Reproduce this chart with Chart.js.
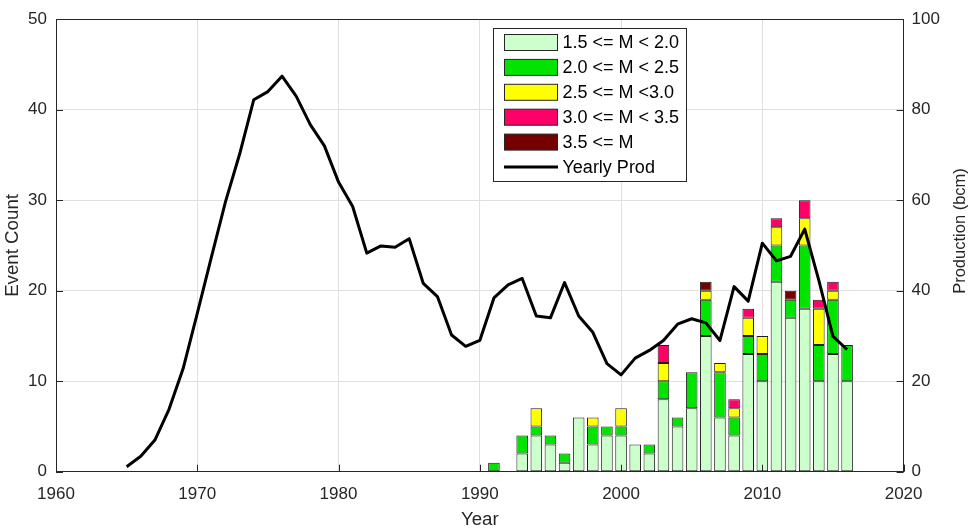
<!DOCTYPE html>
<html>
<head>
<meta charset="utf-8">
<script src="https://cdn.jsdelivr.net/npm/chart.js@4.4.0/dist/chart.umd.min.js"></script>
<style>
  html, body { margin: 0; padding: 0; background: #fff; }
  #wrap { width: 970px; height: 529px; }
</style>
</head>
<body>
<div id="wrap"><canvas id="eventsCanvas" width="970" height="529"></canvas></div>
<script>
// yearly event counts per magnitude class
const barYears = [1991, 1992, 1993, 1994, 1995, 1996, 1997, 1998, 1999, 2000, 2001, 2002, 2003,
                  2004, 2005, 2006, 2007, 2008, 2009, 2010, 2011, 2012, 2013, 2014, 2015, 2016];
const countM15 = [0, 0, 2, 4, 3, 1, 6, 3, 4, 4, 3, 2, 8, 5, 7, 15, 6, 4, 13, 10, 21, 17, 18, 10, 13, 10];
const countM20 = [1, 0, 2, 1, 1, 1, 0, 2, 1, 1, 0, 1, 2, 1, 4, 4, 5, 2, 2, 3, 4, 2, 7, 4, 6, 4];
const countM25 = [0, 0, 0, 2, 0, 0, 0, 1, 0, 2, 0, 0, 2, 0, 0, 1, 1, 1, 2, 2, 2, 0, 3, 4, 1, 0];
const countM30 = [0, 0, 0, 0, 0, 0, 0, 0, 0, 0, 0, 0, 2, 0, 0, 0, 0, 1, 1, 0, 1, 0, 2, 1, 1, 0];
const countM35 = [0, 0, 0, 0, 0, 0, 0, 0, 0, 0, 0, 0, 0, 0, 0, 1, 0, 0, 0, 0, 0, 1, 0, 0, 0, 0];

// yearly gas production (bcm)
const prodYears = [1965, 1966, 1967, 1968, 1969, 1970, 1971, 1972, 1973, 1974, 1975, 1976, 1977,
                   1978, 1979, 1980, 1981, 1982, 1983, 1984, 1985, 1986, 1987, 1988, 1989, 1990,
                   1991, 1992, 1993, 1994, 1995, 1996, 1997, 1998, 1999, 2000, 2001, 2002, 2003,
                   2004, 2005, 2006, 2007, 2008, 2009, 2010, 2011, 2012, 2013, 2014, 2015, 2016];
const production = [1.1, 3.4, 7.0, 13.8, 22.8, 35.0, 47.4, 59.7, 70.2, 82.2, 84.0, 87.4, 83.0,
                    76.7, 72.0, 64.0, 58.6, 48.3, 49.9, 49.6, 51.5, 41.6, 38.7, 30.2, 27.7, 29.0,
                    38.4, 41.3, 42.7, 34.4, 34.0, 41.8, 34.4, 30.8, 23.9, 21.4, 25.1, 26.8, 29.0,
                    32.6, 33.8, 32.9, 29.0, 40.9, 37.7, 50.5, 46.6, 47.6, 53.6, 42.3, 29.9, 27.0];

const classLabels = ['1.5 <= M < 2.0', '2.0 <= M < 2.5', '2.5 <= M <3.0', '3.0 <= M < 3.5', '3.5 <= M'];
const classColors = ['#ccffcc', '#00e400', '#ffff00', '#ff0066', '#760000'];
const classCounts = [countM15, countM20, countM25, countM30, countM35];

const axisColor = '#262626';
const gridColor = '#dfdfdf';
const fontFamily = "'Liberation Sans', Arial, sans-serif";

Chart.defaults.font.family = fontFamily;

function barData(counts) {
    // skip empty years so no zero-height boxes get drawn
    let points = [];
    for (let i = 0; i < barYears.length; i++) {
        if (counts[i] > 0) points.push({ x: barYears[i], y: counts[i] });
    }
    return points;
}

let datasets = [];
for (let k = 0; k < classLabels.length; k++) {
    datasets.push({
        type: 'bar',
        label: classLabels[k],
        data: barData(classCounts[k]),
        backgroundColor: classColors[k],
        borderColor: '#1e1e1e',
        borderWidth: 1,
        borderSkipped: false,
        barPercentage: 0.82,
        categoryPercentage: 1,
        yAxisID: 'y',
        order: 1
    });
}
datasets.push({
    type: 'line',
    label: 'Yearly Prod',
    data: prodYears.map((yr, i) => ({ x: yr, y: production[i] })),
    borderColor: '#000000',
    borderWidth: 3,
    borderJoinStyle: 'round',
    pointRadius: 0,
    tension: 0,
    yAxisID: 'y1',
    order: 0
});

// frame on top edge plus inward tick marks
const frameTicks = {
    id: 'frameTicks',
    afterDatasetsDraw(chart) {
        const ctx = chart.ctx;
        const area = chart.chartArea;
        const len = 7;
        ctx.save();
        ctx.strokeStyle = axisColor;
        ctx.lineWidth = 1;
        ctx.beginPath();
        const top = Math.round(area.top) + 0.5;
        ctx.moveTo(area.left, top);
        ctx.lineTo(area.right, top);
        chart.scales.x.ticks.forEach(t => {
            const px = Math.round(chart.scales.x.getPixelForValue(t.value)) + 0.5;
            ctx.moveTo(px, area.bottom);
            ctx.lineTo(px, area.bottom - len);
        });
        chart.scales.y.ticks.forEach(t => {
            const py = Math.round(chart.scales.y.getPixelForValue(t.value)) + 0.5;
            ctx.moveTo(area.left, py);
            ctx.lineTo(area.left + len, py);
        });
        chart.scales.y1.ticks.forEach(t => {
            const py = Math.round(chart.scales.y1.getPixelForValue(t.value)) + 0.5;
            ctx.moveTo(area.right, py);
            ctx.lineTo(area.right - len, py);
        });
        ctx.stroke();
        ctx.restore();
    }
};

// boxed legend inside the plot, plus the right axis label reading bottom-to-top
const boxLegend = {
    id: 'boxLegend',
    afterDraw(chart) {
        const ctx = chart.ctx;
        const x0 = 493.5, y0 = 28.5, w = 193, h = 153;
        const rowStep = 24.9;
        ctx.save();
        ctx.fillStyle = '#ffffff';
        ctx.fillRect(x0, y0, w, h);
        ctx.strokeStyle = axisColor;
        ctx.lineWidth = 1;
        ctx.strokeRect(x0, y0, w, h);
        ctx.font = '18px ' + fontFamily;
        ctx.textBaseline = 'middle';
        ctx.textAlign = 'left';
        chart.data.datasets.forEach((ds, i) => {
            const cy = 42.5 + i * rowStep;
            if (ds.type === 'bar') {
                ctx.fillStyle = ds.backgroundColor;
                ctx.fillRect(504.5, cy - 8, 53, 16);
                ctx.strokeStyle = axisColor;
                ctx.strokeRect(504.5, cy - 8, 53, 16);
            } else {
                ctx.strokeStyle = ds.borderColor;
                ctx.lineWidth = 3;
                ctx.beginPath();
                ctx.moveTo(504, cy);
                ctx.lineTo(558, cy);
                ctx.stroke();
                ctx.lineWidth = 1;
            }
            ctx.fillStyle = '#000000';
            ctx.fillText(ds.label, 562.5, cy + 1);
        });

        ctx.translate(960, 231);
        ctx.rotate(-Math.PI / 2);
        ctx.textAlign = 'center';
        ctx.font = '16.5px ' + fontFamily;
        ctx.fillStyle = axisColor;
        ctx.fillText('Production (bcm)', 0, 0);
        ctx.restore();
    }
};

const ctx = document.getElementById('eventsCanvas').getContext('2d');
const eventsChart = new Chart(ctx, {
    data: { datasets: datasets },
    plugins: [frameTicks, boxLegend],
    options: {
        responsive: false,
        devicePixelRatio: 1,
        animation: false,
        events: [],
        layout: { padding: { top: 13, left: 0, right: 0, bottom: 0 } },
        plugins: {
            legend: { display: false },
            tooltip: { enabled: false }
        },
        scales: {
            x: {
                type: 'linear',
                min: 1960,
                max: 2020,
                offset: false,
                stacked: true,
                afterFit: scale => { scale.height = 57.3; },
                ticks: {
                    stepSize: 10,
                    padding: 12,
                    color: axisColor,
                    font: { size: 17 },
                    callback: v => String(v)
                },
                grid: { color: gridColor, drawTicks: false, offset: false },
                border: { color: axisColor },
                title: {
                    display: true,
                    text: 'Year',
                    color: axisColor,
                    font: { size: 18.7, lineHeight: 1 },
                    padding: 0
                }
            },
            y: {
                position: 'left',
                min: 0,
                max: 50,
                stacked: true,
                afterFit: scale => { scale.width = 56; },
                ticks: {
                    stepSize: 10,
                    padding: 9,
                    color: axisColor,
                    font: { size: 17 }
                },
                grid: { color: gridColor, drawTicks: false },
                border: { color: axisColor },
                title: {
                    display: true,
                    text: 'Event Count',
                    color: axisColor,
                    font: { size: 18.7, lineHeight: 1 },
                    padding: { top: 4, bottom: 0 }
                }
            },
            y1: {
                position: 'right',
                min: 0,
                max: 100,
                afterFit: scale => { scale.width = 66.4; },
                ticks: {
                    stepSize: 20,
                    padding: 8,
                    color: axisColor,
                    font: { size: 17 }
                },
                grid: { drawOnChartArea: false, drawTicks: false },
                border: { color: axisColor }
            }
        }
    }
});
</script>
</body>
</html>
